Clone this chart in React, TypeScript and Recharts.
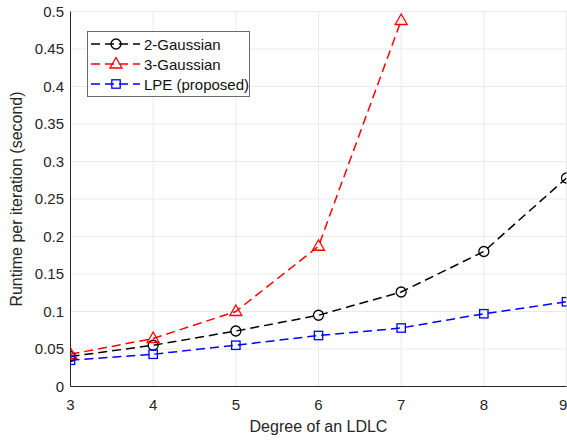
import { LineChart, Line, XAxis, YAxis, CartesianGrid, Legend } from "recharts";

const degrees = [3, 4, 5, 6, 7, 8, 9];
const gauss2 = [0.04, 0.055, 0.074, 0.095, 0.126, 0.18, 0.278];
const gauss3 = [0.043, 0.064, 0.1, 0.187, 0.488, null, null];
const lpe = [0.035, 0.043, 0.055, 0.068, 0.078, 0.097, 0.113];

const xTicks = [3, 4, 5, 6, 7, 8, 9];
const yTicks = [0, 0.05, 0.1, 0.15, 0.2, 0.25, 0.3, 0.35, 0.4, 0.45, 0.5];

const data = degrees.map((d, i) => ({ degree: d, g2: gauss2[i], g3: gauss3[i], lpe: lpe[i] }));

const FONT = '"Liberation Sans", Arial, Helvetica, sans-serif';
const TEXT = "#262626";
const AXIS = "#262626";
const DASH = "9 5";

type Marker = "circle" | "triangle" | "square";

const seriesDefs: { key: string; name: string; color: string; marker: Marker }[] = [
  { key: "g2", name: "2-Gaussian", color: "#000000", marker: "circle" },
  { key: "g3", name: "3-Gaussian", color: "#ff0000", marker: "triangle" },
  { key: "lpe", name: "LPE (proposed)", color: "#0000ff", marker: "square" },
];

function markerShape(kind: Marker, cx: number, cy: number, color: string) {
  if (kind === "circle") {
    return <circle cx={cx} cy={cy} r={5} fill="none" stroke={color} strokeWidth={1.3} />;
  }
  if (kind === "triangle") {
    const p = `${cx},${cy - 6.5} ${cx - 6},${cy + 4} ${cx + 6},${cy + 4}`;
    return <polygon points={p} fill="none" stroke={color} strokeWidth={1.3} />;
  }
  return <rect x={cx - 4.2} y={cy - 4.2} width={8.4} height={8.4} fill="none" stroke={color} strokeWidth={1.3} />;
}

function makeDot(kind: Marker, color: string) {
  return (props: any) => {
    const { cx, cy, index } = props;
    if (cx == null || cy == null || props.value == null) return <g key={`d-${index}`} />;
    return <g key={`d-${index}`}>{markerShape(kind, cx, cy, color)}</g>;
  };
}

function LegendBox() {
  return (
    <div
      style={{
        width: 161,
        height: 62,
        border: "1px solid #6b6b6b",
        background: "#ffffff",
        fontFamily: FONT,
        fontSize: 15,
        color: "#111",
        paddingTop: 2,
        boxSizing: "content-box",
      }}
    >
      {seriesDefs.map((s) => (
        <div key={s.key} style={{ display: "flex", alignItems: "center", height: 20 }}>
          <svg width={56} height={20} style={{ display: "block" }}>
            <line x1={3} y1={10} x2={52} y2={10} stroke={s.color} strokeWidth={1.5} strokeDasharray={DASH} />
            {markerShape(s.marker, 28, 10, s.color)}
          </svg>
          <span style={{ whiteSpace: "nowrap" }}>{s.name}</span>
        </div>
      ))}
    </div>
  );
}

export default function App() {
  return (
    <div style={{ position: "absolute", left: 0, top: 0, width: 567, height: 441, background: "#fff" }}>
      <LineChart
        width={567}
        height={441}
        data={data}
        margin={{ top: 11.5, right: 0.5, left: 0, bottom: 0 }}
        style={{ fontFamily: FONT }}
      >
        <CartesianGrid xAxisId="b" yAxisId="l" stroke="#e9e9e9" strokeWidth={1} />
        <XAxis
          xAxisId="b"
          dataKey="degree"
          type="number"
          domain={[3, 9]}
          ticks={xTicks}
          allowDataOverflow
          height={54.5}
          axisLine={{ stroke: AXIS, strokeWidth: 1 }}
          tickLine={false}
          tickSize={6}
          tickMargin={7}
          tick={{ fill: TEXT, fontSize: 15, fontFamily: FONT }}
          label={{
            content: (p: any) => {
              const vb = p.viewBox;
              return (
                <text x={vb.x + vb.width / 2} y={432} textAnchor="middle" fill={TEXT} fontSize={16} fontFamily={FONT}>
                  Degree of an LDLC
                </text>
              );
            },
          }}
        />
        <XAxis
          xAxisId="bm"
          dataKey="degree"
          type="number"
          domain={[3, 9]}
          ticks={xTicks}
          orientation="bottom"
          mirror
          height={0}
          axisLine={false}
          tick={false}
          tickSize={5}
          tickLine={{ stroke: AXIS }}
        />
        <XAxis
          xAxisId="t"
          dataKey="degree"
          type="number"
          domain={[3, 9]}
          ticks={xTicks}
          orientation="top"
          mirror
          height={0}
          axisLine={{ stroke: AXIS }}
          tick={false}
          tickSize={5}
          tickLine={{ stroke: AXIS }}
        />
        <YAxis
          yAxisId="l"
          type="number"
          domain={[0, 0.5]}
          ticks={yTicks}
          allowDataOverflow
          width={70.5}
          axisLine={{ stroke: AXIS, strokeWidth: 1 }}
          tickLine={false}
          tickSize={4}
          tickMargin={2.5}
          tick={{ fill: TEXT, fontSize: 15, fontFamily: FONT }}
          label={{
            content: (p: any) => {
              const vb = p.viewBox;
              const cy = vb.y + vb.height / 2;
              return (
                <text
                  x={22}
                  y={cy}
                  transform={`rotate(-90 22 ${cy})`}
                  textAnchor="middle"
                  fill={TEXT}
                  fontSize={16}
                  fontFamily={FONT}
                >
                  Runtime per iteration (second)
                </text>
              );
            },
          }}
        />
        <YAxis
          yAxisId="lm"
          type="number"
          domain={[0, 0.5]}
          ticks={yTicks}
          orientation="left"
          mirror
          width={0}
          axisLine={false}
          tick={false}
          tickSize={5}
          tickLine={{ stroke: AXIS }}
        />
        <YAxis
          yAxisId="r"
          type="number"
          domain={[0, 0.5]}
          ticks={yTicks}
          orientation="right"
          mirror
          width={0}
          axisLine={{ stroke: AXIS }}
          tick={false}
          tickSize={5}
          tickLine={{ stroke: AXIS }}
        />
        <Legend
          layout="vertical"
          align="center"
          verticalAlign="middle"
          content={() => <LegendBox />}
          wrapperStyle={{ position: "absolute", left: 87, top: 31, width: "auto", height: "auto" }}
        />
        {seriesDefs.map((s) => (
          <Line
            key={s.key}
            xAxisId="b"
            yAxisId="l"
            type="linear"
            dataKey={s.key}
            name={s.name}
            stroke={s.color}
            strokeWidth={1.5}
            strokeDasharray={DASH}
            dot={makeDot(s.marker, s.color)}
            activeDot={false}
            isAnimationActive={false}
          />
        ))}
      </LineChart>
    </div>
  );
}
